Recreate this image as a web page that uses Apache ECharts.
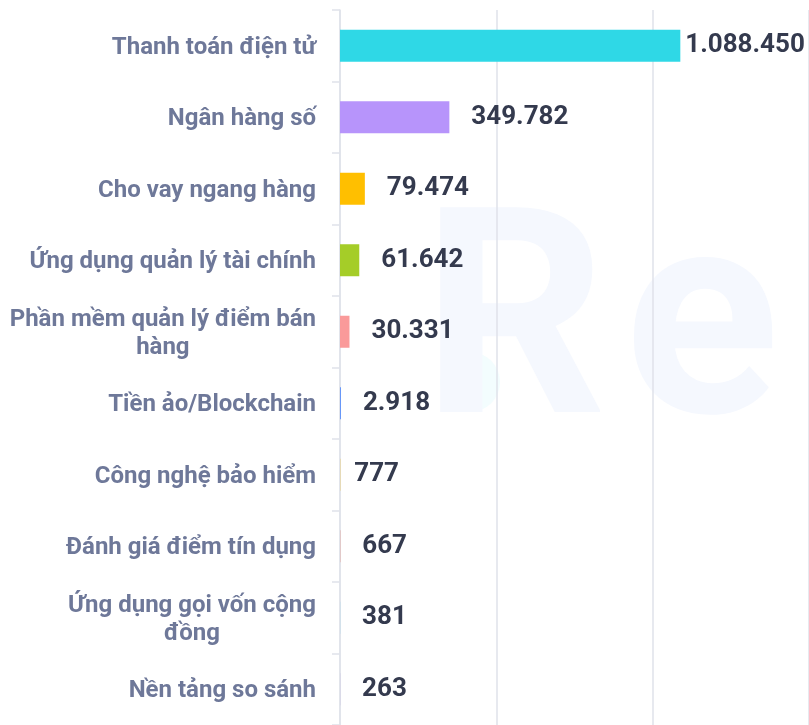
<!DOCTYPE html>
<html>
<head>
<meta charset="utf-8">
<script src="https://cdn.jsdelivr.net/npm/echarts@6/dist/echarts.min.js"></script>
<style>
html,body{margin:0;padding:0;background:#fff;}
#chart{width:809px;height:725px;}
</style>
</head>
<body>
<div id="chart"></div>
<script>
const categories = [
  'Thanh toán điện tử',
  'Ngân hàng số',
  'Cho vay ngang hàng',
  'Ứng dụng quản lý tài chính',
  'Phần mềm quản lý điểm bán hàng',
  'Tiền ảo/Blockchain',
  'Công nghệ bảo hiểm',
  'Đánh giá điểm tín dụng',
  'Ứng dụng gọi vốn cộng đồng',
  'Nền tảng so sánh'
];
const values = [1088450, 349782, 79474, 61642, 30331, 2918, 777, 667, 381, 263];
const barColors = ['#2fd8e6', '#b794fb', '#ffbf00', '#a5cd28', '#fa9a9a', '#5b8ff9', '#f6bd16', '#e8684a', '#6dc8ec', '#9270ca'];
const xTicks = [0, 500000, 1000000, 1500000];

const labelDistance = {0: 5, 6: 14};
const LABEL_FONT = 'bold 24px Roboto';
const LABEL_MAX = 308;

function fmt(v) {
  return String(v).replace(/\B(?=(\d{3})+(?!\d))/g, '.');
}

const measureCtx = document.createElement('canvas').getContext('2d');
function wrapLabel(text) {
  measureCtx.font = LABEL_FONT;
  const words = text.split(' ');
  const lines = [];
  let cur = '';
  words.forEach(w => {
    const t = cur ? cur + ' ' + w : w;
    if (cur && measureCtx.measureText(t).width > LABEL_MAX) {
      lines.push(cur);
      cur = w;
    } else {
      cur = t;
    }
  });
  if (cur) lines.push(cur);
  return lines.map(l => '{c|' + l + '}').join('\n');
}

const chart = echarts.init(document.getElementById('chart'), null, {renderer: 'canvas'});
chart.setOption({
  animation: false,
  backgroundColor: '#ffffff',
  graphic: [
    {type: 'circle', z: -10, silent: true, shape: {cx: 470, cy: 382, r: 30}, style: {fill: '#f3fdfe'}},
    {type: 'text', z: -10, silent: true, left: 422, top: 196, style: {text: 'R', font: 'bold 288px Roboto', fill: '#f5f8fe'}},
    {type: 'text', z: -10, silent: true, left: 624, top: 196, style: {text: 'e', font: 'bold 288px Roboto', fill: '#f5f8fe'}}
  ],
  grid: {left: 340, top: 10, width: 473, height: 718, containLabel: false},
  xAxis: {
    type: 'value',
    min: xTicks[0],
    max: xTicks[xTicks.length - 1],
    interval: xTicks[1] - xTicks[0],
    axisLabel: {show: false},
    axisLine: {show: false},
    axisTick: {show: false},
    splitLine: {show: true, lineStyle: {color: '#dfe2ea', width: 1.5}}
  },
  yAxis: {
    type: 'category',
    data: categories,
    inverse: true,
    axisLine: {show: true, lineStyle: {color: '#dfe2ea', width: 1.5}},
    axisTick: {show: true, length: 8, lineStyle: {color: '#dfe2ea', width: 1.5}},
    axisLabel: {
      margin: 24,
      align: 'right',
      formatter: v => wrapLabel(v),
      rich: {
        c: {
          align: 'center',
          color: '#6e7899',
          fontFamily: 'Roboto',
          fontWeight: 'bold',
          fontSize: 24,
          lineHeight: 28,
          padding: [4, 0, 0, 0]
        }
      }
    }
  },
  series: [{
    type: 'bar',
    barWidth: 32,
    data: values.map((v, i) => ({
      value: v,
      itemStyle: {color: barColors[i]},
      label: {distance: labelDistance[i] !== undefined ? labelDistance[i] : 22}
    })),
    label: {
      show: true,
      position: 'right',
      formatter: p => fmt(p.value),
      color: '#343a4e',
      fontFamily: 'Roboto',
      fontWeight: 'bold',
      fontSize: 26,
      padding: [6, 0, 0, 0]
    }
  }]
});
</script>
</body>
</html>
